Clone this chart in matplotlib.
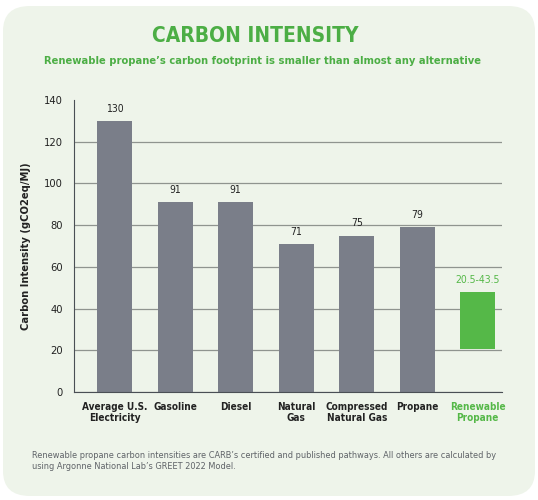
import numpy as np
import matplotlib.pyplot as plt
from matplotlib.patches import FancyBboxPatch

# data
categories = ["Average U.S.\nElectricity", "Gasoline", "Diesel", "Natural\nGas",
              "Compressed\nNatural Gas", "Propane", "Renewable\nPropane"]
values = [130, 91, 91, 71, 75, 79]
labels = ["130", "91", "91", "71", "75", "79"]
renew_low = 20.5
renew_high = 48
renew_label = "20.5-43.5"
yticks = [0, 20, 40, 60, 80, 100, 120, 140]

gray = "#7a7e89"
green = "#55b848"
title_green = "#4cae45"
bg = "#eef4ea"

plt.rcParams['font.family'] = ['DejaVu Sans']
plt.rcParams['font.stretch'] = 'condensed'

fig = plt.figure(figsize=(5.38, 5.0), dpi=100)
fig.patch.set_facecolor("white")

# rounded panel behind everything
panel = FancyBboxPatch((3/538, 4/500), 532/538, 490/500,
                       boxstyle="round,pad=0,rounding_size=0.05",
                       transform=fig.transFigure, facecolor=bg, edgecolor="none",
                       zorder=-5)
fig.patches.append(panel)

ax = fig.add_axes([74/538, 108/500, 428/538, 292/500])
ax.set_facecolor("none")
ax.set_zorder(2)

x = np.arange(len(categories))
ax.bar(x[:6], values, width=0.58, color=gray, zorder=3)
ax.bar(x[6], renew_high - renew_low, bottom=renew_low, width=0.58, color=green, zorder=3)

for xi, v, lab in zip(x[:6], values, labels):
    ax.text(xi, v + 3.5, lab, ha="center", va="bottom", fontsize=7.5, color="#222222")
ax.text(x[6], renew_high + 3.5, renew_label, ha="center", va="bottom", fontsize=7.5, color=green)

ax.set_ylim(0, 140)
ax.set_xlim(-0.67, 6.4)
ax.set_yticks(yticks)
ax.set_yticklabels([str(t) for t in yticks], fontsize=8, color="#222222")
ax.set_xticks(x)
ax.set_xticklabels(categories, fontsize=7.2, fontweight="bold", color="#222222")
ax.get_xticklabels()[-1].set_color(green)
ax.tick_params(axis="x", length=0, pad=7)
ax.tick_params(axis="y", length=0, pad=8)
ax.yaxis.grid(True, color="#8f948f", linewidth=0.9)
ax.set_axisbelow(True)
# no gridline at the top tick
ax.get_ygridlines()[-1].set_visible(False)

for s in ["top", "right"]:
    ax.spines[s].set_visible(False)
ax.spines["left"].set_color("#4a4f55")
ax.spines["bottom"].set_color("#4a4f55")
ax.spines["left"].set_zorder(4)
ax.spines["bottom"].set_zorder(4)
ax.set_ylabel("Carbon Intensity (gCO2eq/MJ)", fontsize=8, fontweight="bold",
              color="#222222", labelpad=9)

fig.text(255/538, 1 - 36/500, "CARBON INTENSITY", ha="center", va="center",
         fontsize=15, fontweight="bold", color=title_green)
fig.text(263/538, 1 - 61/500,
         "Renewable propane\u2019s carbon footprint is smaller than almost any alternative",
         ha="center", va="center", fontsize=8.0, fontweight="bold", color=title_green)
fig.text(32/538, 1 - 461/500,
         "Renewable propane carbon intensities are CARB\u2019s certified and published pathways. All others are calculated by\n"
         "using Argonne National Lab\u2019s GREET 2022 Model.",
         ha="left", va="center", fontsize=6.6, color="#5f6368", linespacing=1.35)

fig.savefig("out.png", dpi=100, facecolor=fig.get_facecolor())
